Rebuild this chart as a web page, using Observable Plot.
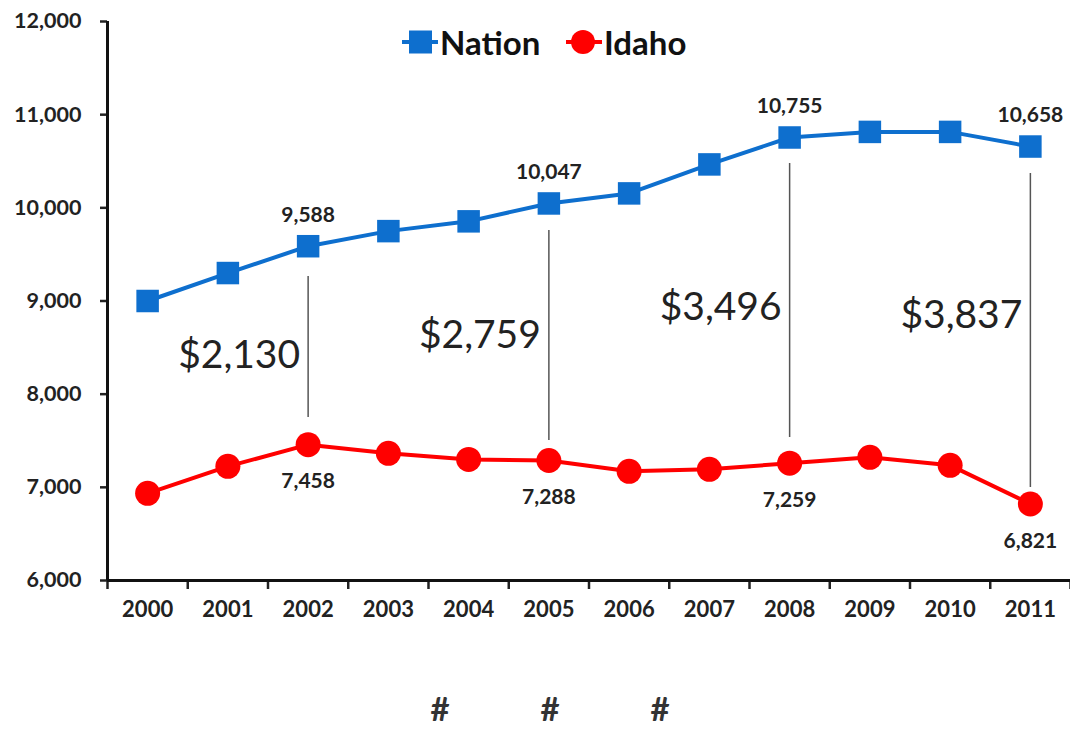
<!DOCTYPE html>
<html><head><meta charset="utf-8">
<script src="https://cdn.jsdelivr.net/npm/d3@7"></script>
<script src="https://cdn.jsdelivr.net/npm/@observablehq/plot@0.6"></script>
<style>
body{margin:0;background:#fff;font-family:Lato,"Open Sans",sans-serif}
#wrap{position:relative;width:1070px;height:734px}
#chart{position:absolute;left:0;top:0}
.leg{position:absolute;top:22px;height:40px;display:flex;align-items:center;font-weight:700;font-size:33px;color:#111}
.hash{position:absolute;top:688px;width:40px;margin-left:-20px;text-align:center;font-weight:700;font-size:33px;line-height:40px;color:#333}
</style></head>
<body>
<div id="wrap">
  <div id="chart"></div>
  <div class="leg" style="left:400px">
    <svg width="40" height="30"><line x1="2" y1="15" x2="38" y2="15" stroke="#0e6fce" stroke-width="4"/><rect x="9" y="3.5" width="23" height="23" fill="#0e6fce"/></svg><span>Nation</span>
  </div>
  <div class="leg" style="left:564px">
    <svg width="40" height="30"><line x1="2" y1="15" x2="38" y2="15" stroke="#ff0000" stroke-width="4"/><circle cx="19" cy="15" r="12" fill="#ff0000"/></svg><span>Idaho</span>
  </div>
  <div class="hash" style="left:440px">#</div>
  <div class="hash" style="left:550px">#</div>
  <div class="hash" style="left:660px">#</div>
</div>
<script>
const years = [2000, 2001, 2002, 2003, 2004, 2005, 2006, 2007, 2008, 2009, 2010, 2011];
const nation = [9000, 9300, 9588, 9750, 9855, 10047, 10155, 10466, 10755, 10815, 10815, 10658];
const idaho = [6936, 7225, 7458, 7365, 7300, 7288, 7172, 7193, 7259, 7322, 7236, 6821];
const yTicks = [6000, 7000, 8000, 9000, 10000, 11000, 12000];
const gapYears = [2002, 2005, 2008, 2011];
const gapLabels = ["$2,130", "$2,759", "$3,496", "$3,837"];
const gapLabelY = [8416, 8630, 8930, 8845];
const connectorTop = [9263, 9757, 10476, 10369];
const connectorBottom = [7750, 7503, 7535, 6998];

const data = years.map((y, i) => ({year: y, nation: nation[i], idaho: idaho[i]}));
const labeled = data.filter(d => gapYears.includes(d.year));
const gaps = gapYears.map((y, i) => ({year: y, label: gapLabels[i], ly: gapLabelY[i], top: connectorTop[i], bottom: connectorBottom[i]}));
const boundaries = years.map(y => y - 0.5).concat([years[years.length - 1] + 0.5]);
const fmt = d3.format(",");

const blue = "#0e6fce", red = "#ff0000";

const chart = Plot.plot({
  width: 1070, height: 660,
  marginTop: 21, marginBottom: 80, marginLeft: 107, marginRight: 0,
  style: {fontFamily: "Lato, 'Open Sans', sans-serif", fontWeight: 700, color: "#222", background: "transparent", overflow: "visible"},
  x: {type: "linear", domain: [1999.5, 2011.5]},
  y: {domain: [6000, 12000]},
  marks: [
    Plot.axisY({ticks: yTicks, tickSize: 7, tickPadding: 19, tickFormat: fmt, fontSize: 21.5, fontWeight: 700, strokeWidth: 2.5, label: null}),
    Plot.axisX({ticks: boundaries, tickSize: 9, tickFormat: () => "", strokeWidth: 2.5, label: null}),
    Plot.axisX({ticks: years, tickSize: 0, tickPadding: 21, tickFormat: d => String(d), fontSize: 22, fontWeight: 700, label: null}),
    Plot.ruleY([6000], {stroke: "#111", strokeWidth: 3}),
    Plot.ruleX([1999.5], {stroke: "#111", strokeWidth: 3}),
    Plot.ruleX(gaps, {x: "year", y1: "bottom", y2: "top", stroke: "#555", strokeWidth: 1.5}),
    Plot.line(data, {x: "year", y: "nation", stroke: blue, strokeWidth: 4}),
    Plot.dot(data, {x: "year", y: "nation", symbol: "square", r: 12.7, fill: blue}),
    Plot.line(data, {x: "year", y: "idaho", stroke: red, strokeWidth: 4}),
    Plot.dot(data, {x: "year", y: "idaho", symbol: "circle", r: 12.5, fill: red}),
    Plot.text(labeled, {x: "year", y: "nation", text: d => fmt(d.nation), dy: -31, fontSize: 21, fontWeight: 700, fill: "#222"}),
    Plot.text(labeled, {x: "year", y: "idaho", text: d => fmt(d.idaho), dy: 37, fontSize: 21, fontWeight: 700, fill: "#222"}),
    Plot.text(gaps, {x: "year", y: "ly", text: "label", textAnchor: "end", dx: -8, fontSize: 39, fontWeight: 400, fill: "#222"})
  ]
});
document.getElementById("chart").append(chart);
</script>
</body></html>
